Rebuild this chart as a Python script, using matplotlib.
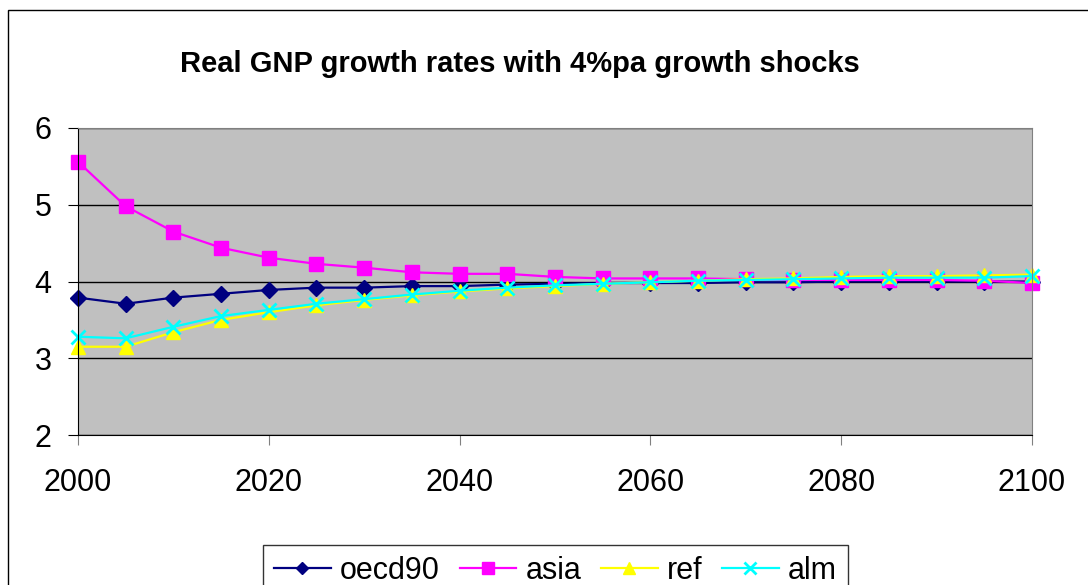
"""
Real GNP growth rates chart
"""

import matplotlib
matplotlib.use("Agg")
import matplotlib.pyplot as plt
from matplotlib.patches import Rectangle

years = list(range(2000, 2101, 5))

oecd90 = [3.79, 3.71, 3.79, 3.84, 3.89, 3.92, 3.92, 3.94, 3.94, 3.96, 3.97,
          3.98, 3.98, 3.98, 3.99, 3.99, 4.00, 4.00, 4.00, 4.00, 4.00]
asia = [5.56, 4.98, 4.65, 4.44, 4.31, 4.23, 4.18, 4.12, 4.10, 4.10, 4.06,
        4.04, 4.04, 4.04, 4.03, 4.02, 4.02, 4.02, 4.02, 4.01, 3.98]
ref = [3.15, 3.15, 3.34, 3.50, 3.60, 3.69, 3.76, 3.82, 3.87, 3.91, 3.94,
       3.97, 3.99, 4.01, 4.03, 4.04, 4.06, 4.07, 4.07, 4.08, 4.09]
alm = [3.28, 3.26, 3.41, 3.55, 3.63, 3.71, 3.77, 3.83, 3.88, 3.92, 3.95,
       3.97, 3.99, 4.01, 4.02, 4.03, 4.04, 4.05, 4.05, 4.05, 4.07]

plt.rcParams['font.family'] = ['Liberation Sans', 'DejaVu Sans']

fig = plt.figure(figsize=(10.88, 5.85), dpi=100)
ax = fig.add_axes([0.0717, 0.2564, 0.8768, 0.5248])
ax.set_facecolor('#C0C0C0')

ax.plot(years, oecd90, color='#000080', marker='D', markersize=8, lw=1.6,
        label='oecd90', clip_on=False)
ax.plot(years, asia, color='#FF00FF', marker='s', markersize=10, lw=1.6,
        label='asia', clip_on=False)
ax.plot(years, ref, color='#FFFF00', marker='^', markersize=10, lw=1.6,
        label='ref', clip_on=False)
ax.plot(years, alm, color='#00FFFF', marker='x', markersize=10, mew=2, lw=1.6,
        label='alm', clip_on=False)

ax.set_xlim(2000, 2100)
ax.set_ylim(2, 6)
ax.set_xticks(range(2000, 2101, 20))
ax.set_yticks(range(2, 7))
ax.yaxis.grid(True, color='black', lw=1)
ax.set_axisbelow(True)

for side in ['top', 'right']:
    ax.spines[side].set_color('#808080')
for side in ['left', 'bottom']:
    ax.spines[side].set_color('black')
ax.tick_params(axis='y', direction='out', length=7, pad=12, labelsize=22)
ax.tick_params(axis='x', direction='out', length=7, pad=17, labelsize=22, color='#808080')

fig.text(0.478, 0.891, 'Real GNP growth rates with 4%pa growth shocks',
         ha='center', va='center', fontsize=21, fontweight='bold')

leg = fig.legend(loc='upper center', bbox_to_anchor=(0.5106, 0.094), ncol=4,
                 fontsize=22, frameon=True, fancybox=False, edgecolor='black',
                 handlelength=1.85, handletextpad=0.3, columnspacing=0.65,
                 borderpad=0.35, markerscale=0.8)
leg.get_frame().set_linewidth(1)

fig.patches.append(Rectangle((8 / 1088, -0.1), 2, 1.1 - 10 / 585,
                             transform=fig.transFigure, fill=False,
                             edgecolor='black', lw=1))

fig.savefig('out.png', dpi=100)
